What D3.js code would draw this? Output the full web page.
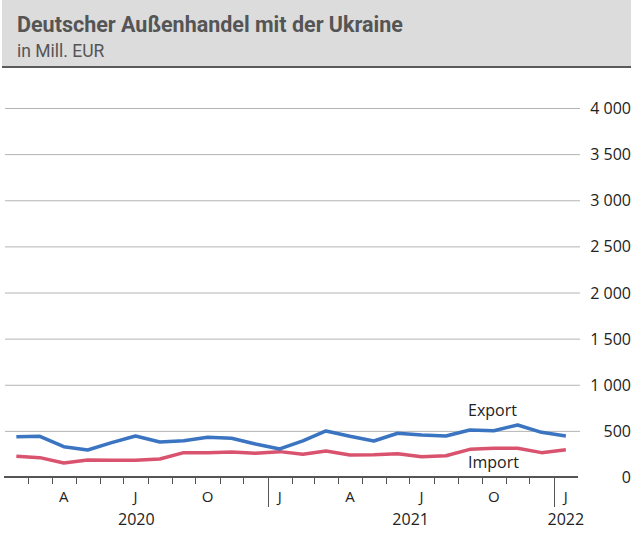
<!DOCTYPE html>
<meta charset="utf-8">
<style>
body { margin: 0; background: #fff; }
svg { display: block; font-family: "Open Sans", sans-serif; }
.grid line { stroke: #b4b4b4; stroke-width: 1px; }
.ylab { font-size: 16px; fill: #222; text-anchor: end; }
.xlab { font-size: 15px; fill: #222; text-anchor: middle; }
</style>
<svg width="633" height="535"></svg>
<script src="https://d3js.org/d3.v7.min.js"></script>
<script>

// monthly values, Feb 2020 .. Jan 2022, Mill. EUR
var months = ["2020-02","2020-03","2020-04","2020-05","2020-06","2020-07","2020-08","2020-09","2020-10","2020-11","2020-12",
              "2021-01","2021-02","2021-03","2021-04","2021-05","2021-06","2021-07","2021-08","2021-09","2021-10","2021-11","2021-12",
              "2022-01"];
var exportVals = [437, 441, 329, 293, 372, 445, 380, 394, 430, 420, 358,
                  304, 392, 499, 441, 390, 474, 455, 445, 510, 502, 564, 484,
                  445];
var importVals = [224, 210, 152, 184, 181, 181, 195, 264, 264, 271, 257,
                  275, 246, 282, 239, 242, 253, 220, 231, 300, 311, 311, 264,
                  296];
var yTicks = [0, 500, 1000, 1500, 2000, 2500, 3000, 3500, 4000];
var monthLabels = [["2020-04", "A"], ["2020-07", "J"], ["2020-10", "O"], ["2021-01", "J"],
                   ["2021-04", "A"], ["2021-07", "J"], ["2021-10", "O"], ["2022-01", "J"]];
var years = [["2020", "2020-02", "2021-01"], ["2021", "2021-01", "2022-01"], ["2022", "2022-01", "2022-02"]];

var svg = d3.select("svg");
var parse = d3.timeParse("%Y-%m");
var fmt = d3.formatLocale({decimal: ",", thousands: " ", grouping: [3], currency: ["", " €"]}).format(",d");

var x = d3.scaleTime().domain([parse("2020-02"), parse("2022-02")]).range([5, 578]);
var y = d3.scaleLinear().domain([0, 4000]).range([477, 108]);

function mid(m) {
  var a = parse(m), b = d3.timeMonth.offset(a, 1);
  return (x(a) + x(b)) / 2;
}

// header
svg.append("rect").attr("x", 2).attr("y", 0).attr("width", 629).attr("height", 67).attr("fill", "#dcdcdc");
svg.append("line").attr("x1", 2).attr("x2", 631).attr("y1", 67).attr("y2", 67)
  .attr("stroke", "#5a5a5a").attr("stroke-width", 2);
svg.append("text").attr("x", 17).attr("y", 32)
  .style("font-family", "Roboto, sans-serif").style("font-weight", "bold").style("font-size", "21.5px")
  .attr("fill", "#555").text("Deutscher Außenhandel mit der Ukraine");
svg.append("text").attr("x", 17).attr("y", 57)
  .style("font-family", "Roboto, sans-serif").style("font-size", "17.5px")
  .attr("fill", "#555").text("in Mill. EUR");

// grid + y labels
var grid = svg.append("g").attr("class", "grid");
grid.selectAll("line").data(yTicks.slice(1)).enter().append("line")
  .attr("x1", 5).attr("x2", 580)
  .attr("y1", function(d) { return y(d) + 0.5; })
  .attr("y2", function(d) { return y(d) + 0.5; });
svg.selectAll(".ylab").data(yTicks).enter().append("text")
  .attr("class", "ylab")
  .attr("x", 631)
  .attr("y", function(d) { return y(d) + 6; })
  .text(function(d) { return fmt(d); });

// x axis
svg.append("line").attr("x1", 4).attr("x2", 578).attr("y1", 477).attr("y2", 477)
  .attr("stroke", "#555").attr("stroke-width", 2);
var bounds = d3.timeMonth.range(parse("2020-03"), parse("2022-02"));
svg.selectAll(".tick").data(bounds).enter().append("line")
  .attr("x1", function(d) { return Math.round(x(d)) + 0.5; })
  .attr("x2", function(d) { return Math.round(x(d)) + 0.5; })
  .attr("y1", 477)
  .attr("y2", function(d) { return d.getMonth() == 0 ? 507 : 484; })
  .attr("stroke", "#555").attr("stroke-width", 1);
svg.selectAll(".mlab").data(monthLabels).enter().append("text")
  .attr("class", "xlab")
  .attr("x", function(d) { return mid(d[0]); })
  .attr("y", 502)
  .text(function(d) { return d[1]; });
svg.selectAll(".ylabx").data(years).enter().append("text")
  .attr("class", "xlab")
  .style("font-size", "16px")
  .attr("x", function(d) { return (x(parse(d[1])) + x(parse(d[2]))) / 2; })
  .attr("y", 525)
  .text(function(d) { return d[0]; });

// lines
var line = d3.line()
  .x(function(d, i) { return mid(months[i]); })
  .y(function(d) { return y(d); });
svg.append("path").datum(importVals).attr("d", line)
  .attr("fill", "none").attr("stroke", "#d9536f").attr("stroke-width", 3.5).attr("stroke-linejoin", "round");
svg.append("path").datum(exportVals).attr("d", line)
  .attr("fill", "none").attr("stroke", "#3b74c1").attr("stroke-width", 3.5).attr("stroke-linejoin", "round");

svg.append("text").attr("x", 468).attr("y", 416).style("font-size", "16px").attr("fill", "#222").text("Export");
svg.append("text").attr("x", 468).attr("y", 468).style("font-size", "16px").attr("fill", "#222").text("Import");

</script>
